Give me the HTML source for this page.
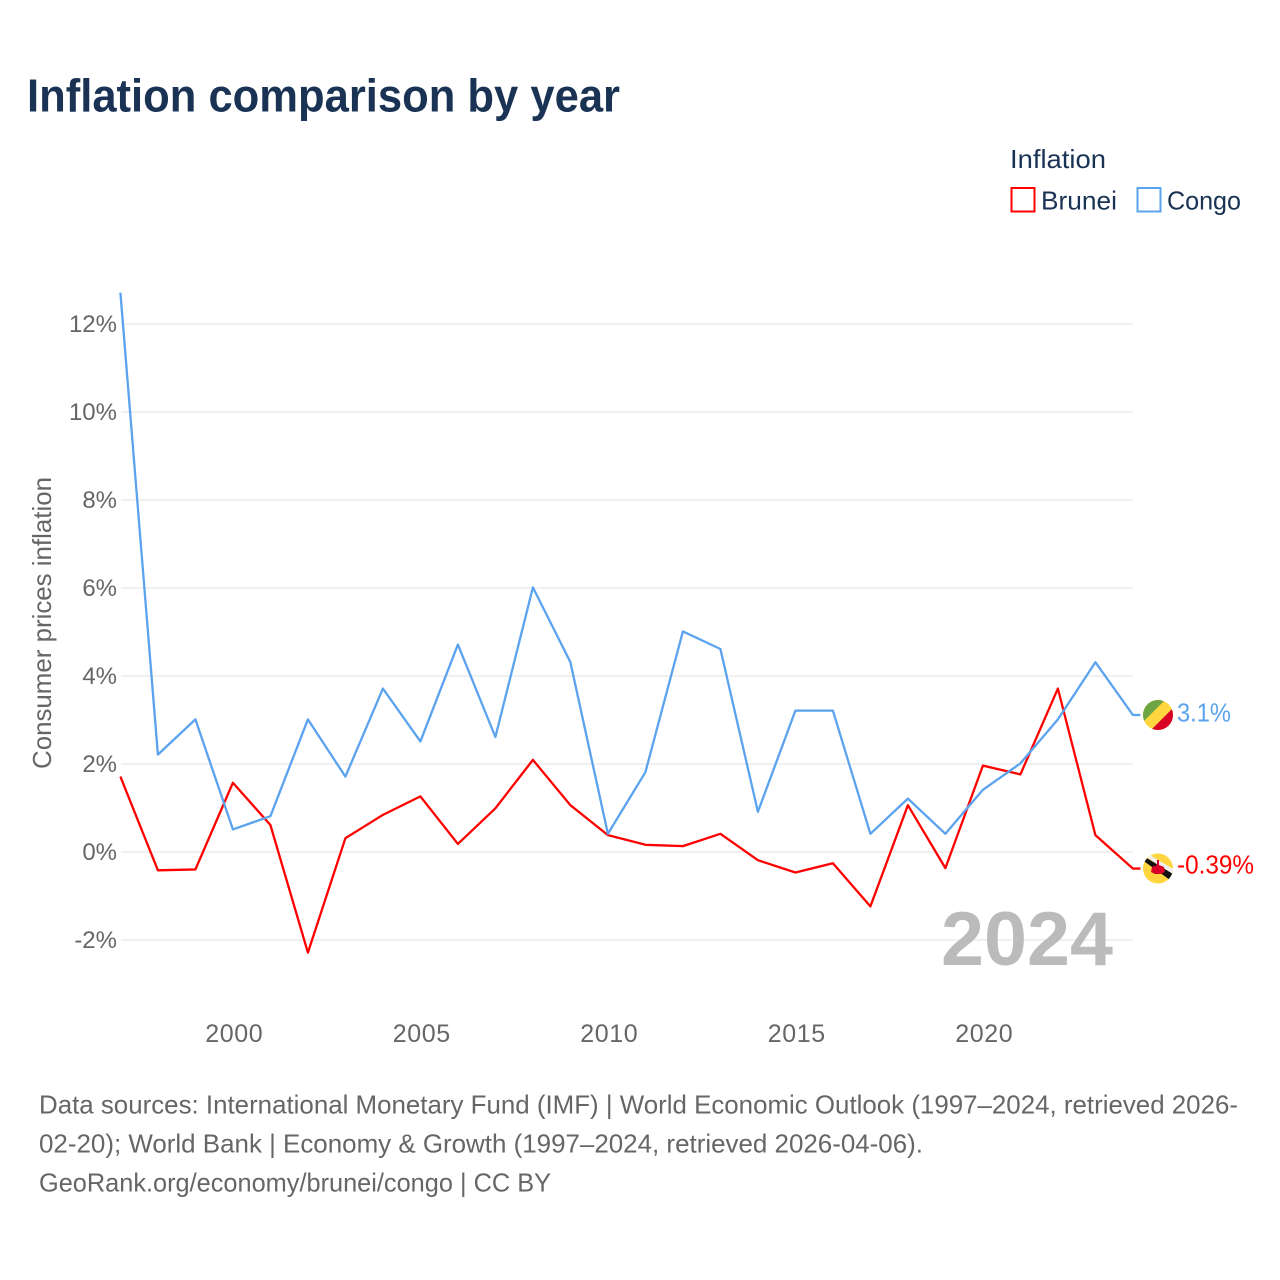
<!DOCTYPE html>
<html lang="en">
<head>
<meta charset="utf-8">
<title>Inflation comparison by year</title>
<style>
  html, body { margin: 0; padding: 0; background: #fff; }
  svg { display: block; font-family: "Liberation Sans", sans-serif; }
  .tick { font-size: 24px; fill: #666; }
  .foot { font-size: 26px; fill: #666; }
  .legend { font-size: 26px; fill: #1a3354; }
</style>
</head>
<body>
<svg id="chart" xmlns="http://www.w3.org/2000/svg" width="1280" height="1280" viewBox="0 0 1280 1280">
  <defs>
    <clipPath id="flag-clip-congo"><circle cx="1158" cy="715" r="15"/></clipPath>
    <clipPath id="flag-clip-brunei"><circle cx="1158" cy="868.5" r="15"/></clipPath>
  </defs>
  <text x="27" y="111.5" font-size="46" font-weight="bold" fill="#1a3354" textLength="593" lengthAdjust="spacingAndGlyphs">Inflation comparison by year</text>

  <g>
    <text class="legend" x="1010" y="168" textLength="96" lengthAdjust="spacingAndGlyphs">Inflation</text>
    <rect x="1011.5" y="188" width="23" height="23.5" fill="none" stroke="#ff0000" stroke-width="2"/>
    <text class="legend" x="1041" y="209.5" textLength="76" lengthAdjust="spacingAndGlyphs">Brunei</text>
    <rect x="1137.5" y="188" width="23" height="23.5" fill="none" stroke="#5ba3ee" stroke-width="2"/>
    <text class="legend" x="1167" y="209.5" textLength="74" lengthAdjust="spacingAndGlyphs">Congo</text>
  </g>

  <g id="grid"></g>
  <g id="yticks"></g>
  <g id="xticks"></g>

  <text transform="translate(51,623) rotate(-90)" text-anchor="middle" font-size="26" fill="#666" textLength="292" lengthAdjust="spacingAndGlyphs">Consumer prices inflation</text>

  <text x="941" y="965" font-size="76" font-weight="bold" fill="#bbbbbb" textLength="172" lengthAdjust="spacingAndGlyphs">2024</text>

  <g transform="translate(-0.6,-0.6)">
    <path id="line-brunei" fill="none" stroke="#ff0000" stroke-width="2.3" stroke-linejoin="round"/>
    <path id="line-congo" fill="none" stroke="#5ba3ee" stroke-width="2.3" stroke-linejoin="round"/>
  </g>

  <g>
    <g clip-path="url(#flag-clip-congo)">
      <rect x="1143" y="700" width="30" height="30" fill="#ffd540"/>
      <polygon points="1143,700 1165,700 1143,722" fill="#6da544"/>
      <polygon points="1173,708 1173,730 1151,730" fill="#d80027"/>
    </g>
  </g>
  <g>
    <g clip-path="url(#flag-clip-brunei)">
      <rect x="1143" y="853.5" width="30" height="30" fill="#ffd540"/>
      <polygon points="1143,854 1148,854 1175,870 1173,876" fill="#f0f0f0"/>
      <polygon points="1143,860.5 1145,857 1173,874 1170,880" fill="#111"/>
      <polygon points="1157,860 1159,860 1159,865 1164,867 1165,872 1161,874 1155,874 1151,872 1152,867 1157,865" fill="#d80027"/>
    </g>
  </g>

  <text x="1177" y="721.5" font-size="26" fill="#5ba3ee" textLength="54" lengthAdjust="spacingAndGlyphs">3.1%</text>
  <text x="1177" y="873.5" font-size="26" fill="#ff0000" textLength="77" lengthAdjust="spacingAndGlyphs">-0.39%</text>

  <g>
    <text class="foot" x="39" y="1113.5" textLength="1199" lengthAdjust="spacingAndGlyphs">Data sources: International Monetary Fund (IMF) | World Economic Outlook (1997–2024, retrieved 2026-</text>
    <text class="foot" x="39" y="1152.5" textLength="884" lengthAdjust="spacingAndGlyphs">02-20); World Bank | Economy &amp; Growth (1997–2024, retrieved 2026-04-06).</text>
    <text class="foot" x="39" y="1191.5" textLength="512" lengthAdjust="spacingAndGlyphs">GeoRank.org/economy/brunei/congo | CC BY</text>
  </g>
</svg>

<script>
const years = [1997,1998,1999,2000,2001,2002,2003,2004,2005,2006,2007,2008,2009,2010,2011,2012,2013,2014,2015,2016,2017,2018,2019,2020,2021,2022,2023,2024];
const bruneiValues = [1.7,-0.43,-0.41,1.56,0.6,-2.3,0.3,0.83,1.25,0.17,0.98,2.08,1.05,0.37,0.15,0.12,0.4,-0.2,-0.48,-0.27,-1.25,1.05,-0.38,1.95,1.75,3.7,0.37,-0.39];
const congoValues = [12.7,2.2,3.0,0.5,0.8,3.0,1.7,3.7,2.5,4.7,2.6,6.0,4.3,0.4,1.8,5.0,4.6,0.9,3.2,3.2,0.4,1.2,0.4,1.4,2.0,3.0,4.3,3.1];
const yTickValues = [-2,0,2,4,6,8,10,12];
const xTickValues = [2000,2005,2010,2015,2020];

const NS = 'http://www.w3.org/2000/svg';
const LEADER_END_X = 1141;
function xScale(year) { return 121 + (year - 1997) * 37.5; }
function yScale(value) { return 852 - value * 44; }
function linePath(values) {
  const main = values.map(function (v, i) {
    return (i ? 'L' : 'M') + xScale(years[i]).toFixed(2) + ' ' + yScale(v).toFixed(2);
  }).join(' ');
  const last = values[values.length - 1];
  return main + ' L' + LEADER_END_X + ' ' + yScale(last).toFixed(2);
}

const grid = document.getElementById('grid');
const yticks = document.getElementById('yticks');
const xticks = document.getElementById('xticks');

yTickValues.forEach(function (v) {
  const line = document.createElementNS(NS, 'line');
  
  
  line.setAttribute('x1', 121);
  line.setAttribute('x2', 1133);
  line.setAttribute('y1', yScale(v));
  line.setAttribute('y2', yScale(v));
  line.setAttribute('stroke', '#ebebeb');
  line.setAttribute('stroke-width', '1.5');
  grid.appendChild(line);

  const label = document.createElementNS(NS, 'text');
  
  
  label.setAttribute('class', 'tick');
  label.setAttribute('x', 117);
  label.setAttribute('y', yScale(v) + 8);
  label.setAttribute('text-anchor', 'end');
  label.textContent = v + '%';
  yticks.appendChild(label);
});

xTickValues.forEach(function (year) {
  const label = document.createElementNS(NS, 'text');
  
  
  label.setAttribute('class', 'tick');
  label.setAttribute('x', xScale(year) + 0.7);
  label.setAttribute('y', 1042);
  label.setAttribute('text-anchor', 'middle');
  label.setAttribute('style', 'font-size:25px;letter-spacing:0.6px');
  label.textContent = year;
  xticks.appendChild(label);
});

document.getElementById('line-brunei').setAttribute('d', linePath(bruneiValues));
document.getElementById('line-congo').setAttribute('d', linePath(congoValues));
</script>
</body>
</html>
